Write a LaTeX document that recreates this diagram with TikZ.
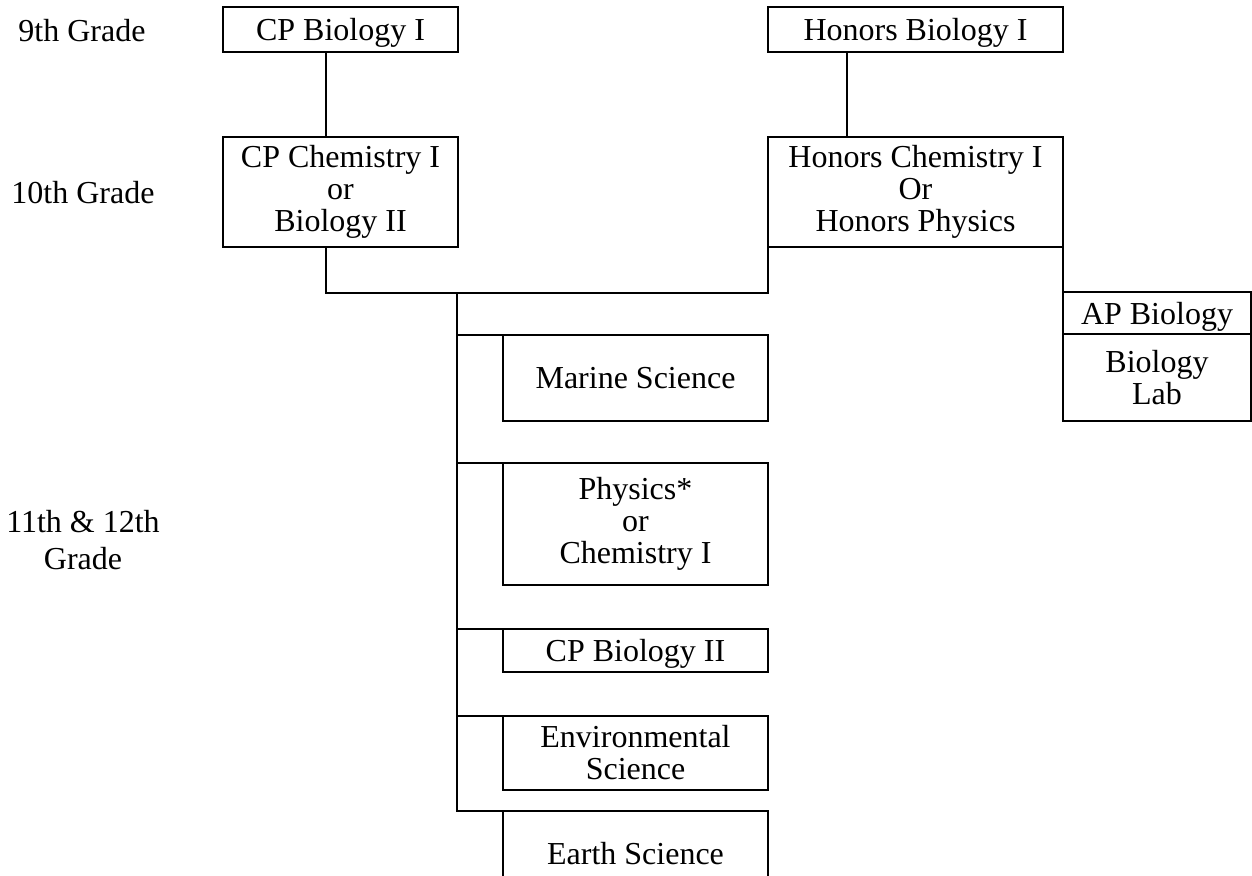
\documentclass[tikz,border=0pt]{standalone}
\usepackage{fontspec}
\setmainfont{Liberation Serif}

\tikzset{
    caja/.style={draw, inner sep=0pt, outer sep=0pt, align=center, minimum width=132.5pt,
        font=\fontsize{16pt}{16pt}\selectfont},
    unalinea/.style={text depth=0pt},
    grado/.style={inner sep=0pt, align=center, font=\fontsize{16pt}{18.5pt}\selectfont},
}

\begin{document}
\begin{tikzpicture}[x=0.5pt, y=-0.5pt, line width=1pt]

    \path[use as bounding box] (0,0) rectangle (1252,875);

    %Grados
    \node[grado, anchor=base] (g9) at (82,41) {9th Grade};
    \node[grado, anchor=base] (g10) at (83,203) {10th Grade};
    \node[grado] (g11) at (83,540) {11th \& 12th\\Grade};

    %9 y 10
    \node[caja, unalinea, minimum width=117.5pt, minimum height=22.5pt] (bioA) at (340.5,29.5) {CP Biology I};
    \node[caja, unalinea, minimum width=147.5pt, minimum height=22.5pt] (bioH) at (915.5,29.5) {Honors Biology I};
    \node[caja, minimum width=117.5pt, minimum height=55pt] (chemA) at (340.5,192) {CP Chemistry I\\or\\Biology II};
    \node[caja, minimum width=147.5pt, minimum height=55pt] (chemH) at (915.5,192) {Honors Chemistry I\\Or\\Honors Physics};

    %AP
    \node[caja, unalinea, minimum width=94pt, minimum height=21pt] (apbio) at (1157,313) {AP Biology};
    \node[caja, minimum width=94pt, minimum height=43.5pt] (lab) at (1157,377.5) {Biology\\Lab};

    %11 y 12
    \node[caja, minimum height=43pt] (marine) at (635.5,378) {Marine Science};
    \node[caja, minimum height=61pt] (phys) at (635.5,524) {Physics*\\or\\Chemistry I};
    \node[caja, unalinea, minimum height=21.5pt] (cpbio) at (635.5,650.5) {CP Biology II};
    \node[caja, minimum height=37pt] (env) at (635.5,753) {Environmental\\Science};
    \node[caja, draw=none, minimum height=43pt] (earth) at (635.5,853.5) {Earth Science};
    \draw (earth.south west) |- (earth.north east) -- (earth.south east);

    %Lineas
    \coordinate (hub) at (457,293);
    \draw ([xshift=-7.25pt]bioA.south) -- ([xshift=-7.25pt]chemA.north);
    \draw ([xshift=-34.25pt]bioH.south) -- ([xshift=-34.25pt]chemH.north);
    \draw ([xshift=-7.25pt]chemA.south) |- (hub) -| (chemH.south west);
    \draw (chemH.south east) -- (chemH.south east |- apbio.north);
    \draw (hub) |- (earth.north west);
    \foreach \n in {marine,phys,cpbio,env}{
        \draw (hub |- \n.north west) -- (\n.north west);
    }

\end{tikzpicture}
\end{document}
